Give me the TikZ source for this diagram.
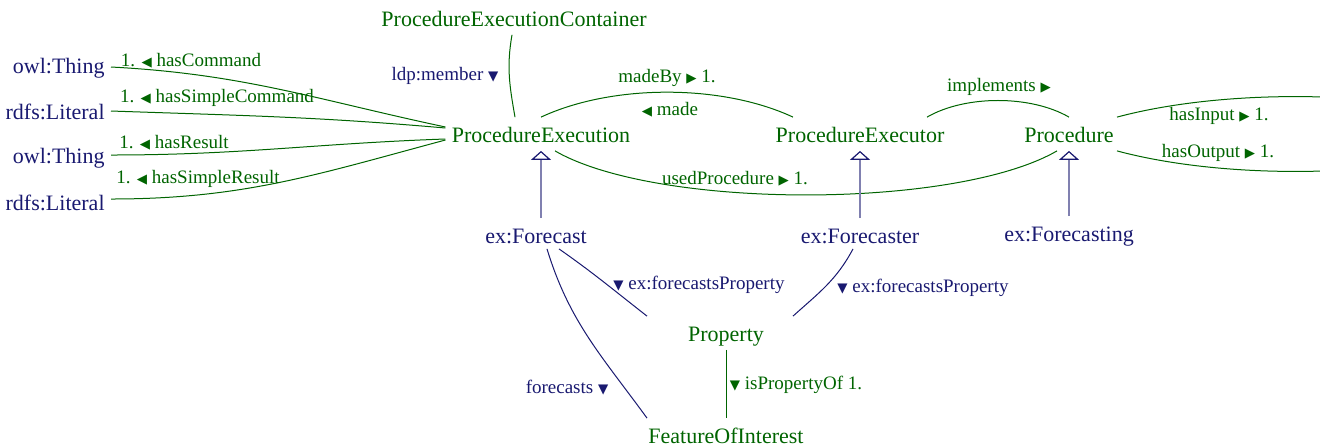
\documentclass[tikz,border=0pt]{standalone}
\usepackage{fontspec}
\setmainfont{Liberation Serif}
\newfontfamily\symf{DejaVu Sans}[Scale=0.7]
\usetikzlibrary{arrows.meta,calc}
\definecolor{og}{RGB}{0,100,0}
\definecolor{nv}{RGB}{25,25,112}
\newcommand\rtri{{\symf ▶}}
\newcommand\ltri{{\symf ◀}}
\newcommand\dtri{{\symf ▼}}
\begin{document}
\begin{tikzpicture}[x=0.5pt,y=-0.5pt,
  base/.style={inner xsep=3pt,inner ysep=3pt,text height=9.5pt,text depth=1pt,font=\fontsize{11}{13}\selectfont},
  gnode/.style={base,text=og},
  nnode/.style={base,text=nv},
  glbl/.style={inner sep=0pt,text=og,font=\fontsize{9.5}{11}\selectfont},
  nlbl/.style={inner sep=0pt,text=nv,font=\fontsize{9.5}{11}\selectfont},
  gl/.style={draw=og,line width=0.5pt},
  nl/.style={draw=nv,line width=0.5pt},
  gen/.style={draw=nv!55,line width=0.6pt,-{Triangle[open,width=10pt,length=4.5pt,color=nv]}},
]
\useasboundingbox (0,0) rectangle (1320,446);
\clip (0,0) rectangle (1320,446);

% nodes
\node[gnode] (pec) at (514,18) {ProcedureExecutionContainer};
\node[gnode] (pe) at (541,134) {ProcedureExecution};
\node[gnode] (pexr) at (860,134) {ProcedureExecutor};
\node[gnode] (proc) at (1069,134) {Procedure};
\node[nnode] (fc) at (536,235) {ex:Forecast};
\node[nnode] (fcr) at (860,235) {ex:Forecaster};
\node[nnode] (fcg) at (1069,233) {ex:Forecasting};
\node[gnode] (prop) at (726,333) {Property};
\node[gnode] (foi) at (726,435) {FeatureOfInterest};
\node[nnode,anchor=east] (ot1) at (111,65) {owl:Thing};
\node[nnode,anchor=east] (rl1) at (111,111) {rdfs:Literal};
\node[nnode,anchor=east] (ot2) at (111,155) {owl:Thing};
\node[nnode,anchor=east] (rl2) at (111,202) {rdfs:Literal};
\coordinate (inR) at (1480,118);
\coordinate (outR) at (1480,150);

% left edges
\draw[gl] ($(ot1.east)+(0,2)$) to[out=-3,in=168] ($(pe.west)+(0,-7)$);
\draw[gl] (rl1.east) to[out=-2,in=175] ($(pe.west)+(0,-6)$);
\draw[gl] (ot2.east) to[out=0,in=-178] ($(pe.west)+(0,5)$);
\draw[gl] ($(rl2.east)+(0,-3)$) to[out=0,in=-165] ($(pe.west)+(0,6)$);
\node[glbl] (l1) at (191,61) {1. \ltri\ hasCommand};
\node[glbl] (l2) at (217,98) {1. \ltri\ hasSimpleCommand};
\node[glbl] (l3) at (174,143) {1. \ltri\ hasResult};
\node[glbl] (l4) at (198,179) {1. \ltri\ hasSimpleResult};

% container
\draw[gl] ($(pec.south)+(-2,0)$) to[out=-100,in=100] ($(pe.north)+(-26,0)$);
\node[nlbl] (l5) at (445,76) {ldp:member \dtri};

% madeBy
\draw[gl] (pe.north) to[out=25,in=155,looseness=0.8] ($(pexr.north)+(-67,0)$);
\node[glbl] (l6) at (667,78) {madeBy \rtri\ 1.};
\node[glbl] (l7) at (670,110) {\ltri\ made};

% usedProcedure
\draw[gl] ($(pe.south)+(14,0)$) to[out=-30,in=-150,looseness=0.6] ($(proc.south)+(-12,0)$);
\node[glbl] (l8) at (735,179) {usedProcedure \rtri\ 1.};

% implements
\draw[gl] ($(pexr.north)+(67,0)$) to[out=30,in=150,looseness=0.8] (proc.north);
\node[glbl] (l9) at (999,87) {implements \rtri};

% hasInput / hasOutput
\draw[gl] ($(proc.north)+(48,0)$) to[out=15,in=165,looseness=0.76] (inR);
\draw[gl] ($(proc.south)+(48,0)$) to[out=-15,in=-165,looseness=0.76] (outR);
\node[glbl] (l10) at (1219,116) {hasInput \rtri\ 1.};
\node[glbl] (l11) at (1218,153) {hasOutput \rtri\ 1.};

% generalizations
\draw[gen] (fc.north -| pe.south) -- (pe.south);
\draw[gen] (fcr.north) -- (pexr.south);
\draw[gen] (fcg.north) -- (proc.south);

% forecasts
\draw[nl] ($(fc.south)+(23,-3)$) to[out=-35,in=142] ($(prop.north)+(-79,0)$);
\node[nlbl] (l12) at (699,285) {\dtri\ ex:forecastsProperty};
\draw[nl] ($(fcr.south)+(-7,-3)$) to[out=-118,in=42] ($(prop.north)+(67,0)$);
\node[nlbl] (l13) at (923,288) {\dtri\ ex:forecastsProperty};
\draw[nl] ($(fc.south)+(11,-3)$) to[out=-73,in=126] ($(foi.north)+(-79,0)$);
\node[nlbl] (l14) at (567,388) {forecasts \dtri};
\draw[gl] (prop.south) -- (foi.north);
\node[glbl] (l15) at (796,385) {\dtri\ isPropertyOf 1.};
\end{tikzpicture}
\end{document}
